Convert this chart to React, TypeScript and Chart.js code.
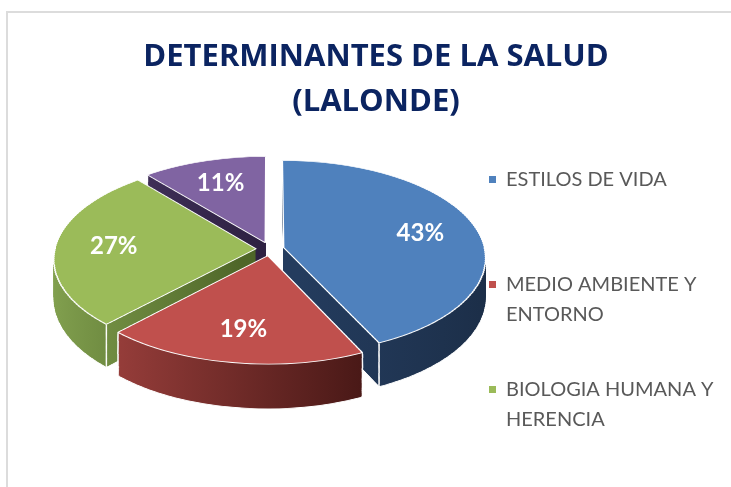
import React, { useEffect, useRef } from "react";
import { Chart, registerables } from "chart.js";

Chart.register(...registerables);

// ---- data ----
const categories = [
  "ESTILOS DE VIDA",
  "MEDIO AMBIENTE Y ENTORNO",
  "BIOLOGIA HUMANA Y HERENCIA",
  "SISTEMA SANITARIO",
];
const shares = [43, 19, 27, 11];
const topColors = ["#4F81BD", "#C0504D", "#9BBB59", "#8064A2"];
const sideLeft = ["#243c5e", "#963d3a", "#86a552", "#3f2e58"];
const sideRight = ["#1b2d46", "#4a1917", "#4e6628", "#2e2142"];
const titleLines = ["DETERMINANTES DE LA SALUD", "(LALONDE)"];
const legendCount = 3; // entries visible in the legend

// ---- layout ----
const W = 731;
const H = 487;
const CX = 270; // screen x of pie centre
const CY = 249; // screen y of pie centre
const TILT = 0.478; // vertical squash of the pie plane
const PERSP = 2000; // perspective distance (user units)
const RADIUS = 201;
const EXPLODE = 14;
const DEPTH = 40;
const LABEL_R = 0.71;
const BANDS = 100;

const LEG_X = 489;
const LEG_TEXT_X = 506;
const LEG_Y0 = 180;
const LEG_PITCH = 105;
const LEG_LINE = 30;
const LEG_WRAP = 230;

const persp = (v: number) => PERSP / (PERSP - v);
const screenY = (v: number, d: number) => CY + TILT * v * persp(v) + d * persp(v);

function wrap(ctx: CanvasRenderingContext2D, text: string, maxW: number) {
  const words = text.split(" ");
  const lines: string[] = [];
  let cur = "";
  for (const w of words) {
    const t = cur ? cur + " " + w : w;
    if (ctx.measureText(t).width > maxW && cur) {
      lines.push(cur);
      cur = w;
    } else cur = t;
  }
  if (cur) lines.push(cur);
  return lines;
}

const pie3d = {
  id: "pie3d",
  beforeDatasetDraw(chart: any, args: any) {
    const ctx: CanvasRenderingContext2D = chart.ctx;
    const arcs = args.meta.data;
    if (!arcs.length) return false;
    const ax = arcs[0].x;
    const ay = arcs[0].y;
    const shifts = arcs.map((a: any) => {
      const m = (a.startAngle + a.endAngle) / 2;
      return [Math.cos(m) * EXPLODE, Math.sin(m) * EXPLODE];
    });
    // vertical extent (relative to centre) of each exploded slice
    const ranges = arcs.map((a: any, i: number) => {
      let lo = shifts[i][1];
      let hi = shifts[i][1];
      for (let t = 0; t <= 90; t++) {
        const ang = a.startAngle + ((a.endAngle - a.startAngle) * t) / 90;
        const v = shifts[i][1] + Math.sin(ang) * a.outerRadius;
        lo = Math.min(lo, v);
        hi = Math.max(hi, v);
      }
      return [lo - 2, hi + 2];
    });
    const grads = arcs.map((a: any, i: number) => {
      const sx = a.x + shifts[i][0];
      let minX = sx;
      let maxX = sx;
      for (let t = 0; t <= 60; t++) {
        const ang = a.startAngle + ((a.endAngle - a.startAngle) * t) / 60;
        const x = sx + Math.cos(ang) * a.outerRadius;
        minX = Math.min(minX, x);
        maxX = Math.max(maxX, x);
      }
      const g = ctx.createLinearGradient(minX, 0, maxX, 0);
      g.addColorStop(0, sideLeft[i]);
      g.addColorStop(1, sideRight[i]);
      return g;
    });
    const fakes = (opts: (i: number) => any) =>
      arcs.map((a: any, i: number) => {
        const f = Object.create(a);
        f.options = Object.assign({}, a.options, opts(i), { offset: 0 });
        return f;
      });

    const vMin = -(RADIUS + EXPLODE + 4);
    const vMax = RADIUS + EXPLODE + 4;
    const step = (vMax - vMin) / BANDS;

    const pass = (els: any[], d: number, corners: boolean) => {
      for (let j = 0; j < BANDS; j++) {
        const v0 = vMin + j * step;
        const v1 = v0 + step;
        const y0 = Math.floor(screenY(v0, d));
        const y1 = Math.floor(screenY(v1, d));
        if (y1 <= y0) continue;
        const vm = (v0 + v1) / 2;
        const sm = persp(vm);
        ctx.save();
        ctx.beginPath();
        ctx.rect(0, y0, W, y1 - y0);
        ctx.clip();
        const e = CX - ax * sm;
        const f = CY + TILT * vm * sm - TILT * sm * sm * (ay + vm) + d * sm;
        ctx.transform(sm, 0, 0, TILT * sm * sm, e, f);
        els.forEach((el, i) => {
          if (ranges[i][1] < v0 || ranges[i][0] > v1) return;
          ctx.save();
          ctx.translate(shifts[i][0], shifts[i][1]);
          el.draw(ctx);
          if (corners) {
            // white edge lines at the outer corners of the slice wall
            const a = arcs[i];
            const cw = 1.3 / sm;
            const ch = 2 / (TILT * sm * sm);
            ctx.fillStyle = "rgba(255,255,255,0.9)";
            [a.startAngle, a.endAngle].forEach((ang: number) => {
              const px = a.x + Math.cos(ang) * a.outerRadius;
              const py = a.y + Math.sin(ang) * a.outerRadius;
              ctx.fillRect(px - cw / 2, py - ch / 2, cw, ch);
            });
          }
          ctx.restore();
        });
        ctx.restore();
      }
    };

    const sideInner = fakes((i) => ({ backgroundColor: grads[i], borderWidth: 0 }));
    const sideBottom = fakes((i) => ({ backgroundColor: grads[i], borderWidth: 1.5 }));
    const tops = fakes(() => ({}));
    for (let d = DEPTH; d >= 1; d--) pass(d === DEPTH ? sideBottom : sideInner, d, true);
    pass(tops, 0, false);

    // percentage labels
    const total = shares.reduce((s, v) => s + v, 0);
    ctx.save();
    ctx.fillStyle = "#ffffff";
    ctx.font = "bold 24px Lato";
    ctx.textAlign = "center";
    ctx.textBaseline = "middle";
    arcs.forEach((a: any, i: number) => {
      const m = (a.startAngle + a.endAngle) / 2;
      const u = shifts[i][0] + Math.cos(m) * a.outerRadius * LABEL_R;
      const v = shifts[i][1] + Math.sin(m) * a.outerRadius * LABEL_R;
      const X = CX + u * persp(v);
      const Y = screenY(v, 0);
      ctx.fillText(Math.round((shares[i] / total) * 100) + "%", X, Y);
    });
    ctx.restore();
    return false;
  },
  afterDraw(chart: any) {
    const ctx: CanvasRenderingContext2D = chart.ctx;
    ctx.save();
    ctx.font = "20px Lato";
    ctx.textBaseline = "middle";
    ctx.textAlign = "left";
    for (let i = 0; i < legendCount; i++) {
      const y0 = LEG_Y0 + i * LEG_PITCH;
      ctx.fillStyle = topColors[i];
      ctx.fillRect(LEG_X, y0 - 4, 7, 7);
      ctx.fillStyle = "#595959";
      const lines = wrap(ctx, categories[i], LEG_WRAP);
      lines.forEach((ln, j) => ctx.fillText(ln, LEG_TEXT_X, y0 + j * LEG_LINE));
    }
    ctx.restore();
  },
};

export default function App() {
  const ref = useRef<HTMLCanvasElement | null>(null);
  useEffect(() => {
    if (!ref.current) return;
    const chart = new Chart(ref.current, {
      type: "pie",
      data: {
        labels: categories,
        datasets: [
          {
            data: shares,
            backgroundColor: topColors,
            borderColor: "#ffffff",
            borderWidth: 1.5,
            radius: RADIUS,
            clip: false,
          } as any,
        ],
      },
      options: {
        responsive: false,
        animation: false,
        layout: { padding: { left: 21, right: 0, top: 0, bottom: 0 } },
        plugins: {
          legend: { display: false },
          tooltip: { enabled: false },
          title: {
            display: true,
            text: titleLines,
            color: "#0b2461",
            font: { family: "'Open Sans'", weight: "bold", size: 31, lineHeight: "45px" },
            padding: { top: 35, bottom: 10 },
          },
        },
      },
      plugins: [pie3d],
    });
    return () => chart.destroy();
  }, []);
  return (
    <div style={{ position: "fixed", left: 0, top: 0, width: W, height: H, overflow: "hidden", background: "#fff" }}>
      <div
        style={{
          position: "absolute",
          left: 6,
          top: 11,
          width: 900,
          height: 700,
          borderTop: "2px solid #dcdcdc",
          borderLeft: "2px solid #dcdcdc",
        }}
      />
      <canvas ref={ref} width={W} height={H} style={{ position: "absolute", left: 0, top: 0 }} />
    </div>
  );
}
